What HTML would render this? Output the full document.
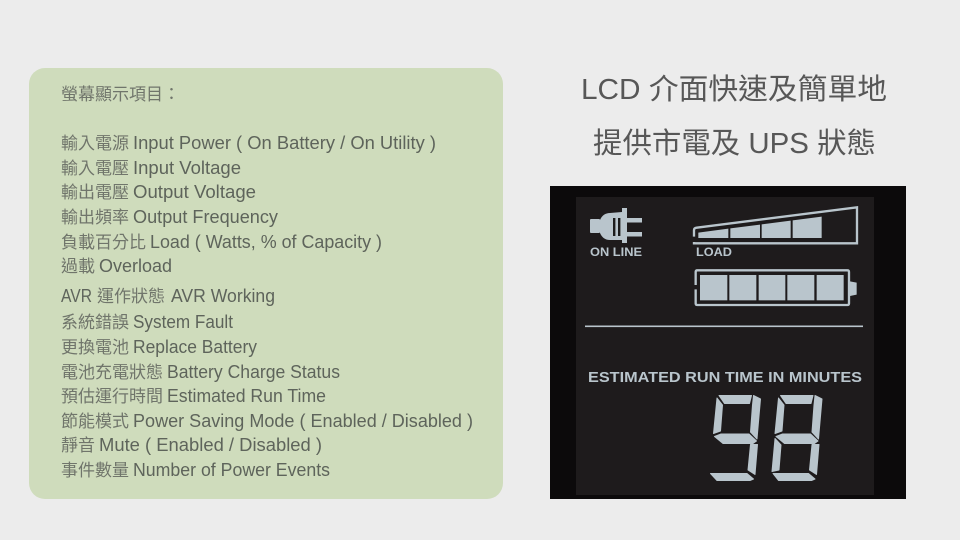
<!DOCTYPE html>
<html lang="zh-Hant">
<head>
<meta charset="utf-8">
<title>LCD 介面</title>
<style>
html,body{margin:0;padding:0;width:960px;height:540px;overflow:hidden;background:#ececec}
svg{display:block}
.c{font-family:"Liberation Sans","Noto Sans CJK TC",sans-serif;font-size:17px;fill:#70756b}
.l{font-family:"Liberation Sans",sans-serif;font-size:18px;fill:#5e645b}
.t{font-family:"Liberation Sans","Noto Sans CJK TC",sans-serif;font-size:29px;fill:#575757}
.s{fill:#b9c5cc}
.o{fill:none;stroke:#b9c5cc}
.d{fill:#b9c5cc;stroke:#b9c5cc;stroke-width:1;stroke-linejoin:round}
.lbl{font-family:"Liberation Sans",sans-serif;font-weight:bold;fill:#b9c5cc}
</style>
</head>
<body>
<svg width="960" height="540" viewBox="0 0 960 540" xmlns="http://www.w3.org/2000/svg">
<defs><filter id="b" x="-2%" y="-2%" width="104%" height="104%"><feGaussianBlur stdDeviation="0.35"/></filter></defs>
<rect width="960" height="540" fill="#ececec"/>
<rect x="29" y="68" width="474" height="431" rx="16" fill="#cfdcbc"/>

<text class="c" x="61" y="100">螢幕顯示項目：</text>

<text class="c" x="61" y="149">輸入電源</text><text class="l" x="133" y="149" textLength="303" lengthAdjust="spacingAndGlyphs">Input Power ( On Battery / On Utility )</text>
<text class="c" x="61" y="174">輸入電壓</text><text class="l" x="133" y="174" textLength="108" lengthAdjust="spacingAndGlyphs">Input Voltage</text>
<text class="c" x="61" y="198">輸出電壓</text><text class="l" x="133" y="198" textLength="123" lengthAdjust="spacingAndGlyphs">Output Voltage</text>
<text class="c" x="61" y="223">輸出頻率</text><text class="l" x="133" y="223" textLength="145" lengthAdjust="spacingAndGlyphs">Output Frequency</text>
<text class="c" x="61" y="248">負載百分比</text><text class="l" x="150" y="248" textLength="232" lengthAdjust="spacingAndGlyphs">Load ( Watts, % of Capacity )</text>
<text class="c" x="61" y="272">過載</text><text class="l" x="99" y="272" textLength="73" lengthAdjust="spacingAndGlyphs">Overload</text>
<text class="l" x="61" y="302" textLength="31" lengthAdjust="spacingAndGlyphs">AVR</text><text class="c" x="97" y="302">運作狀態</text><text class="l" x="171" y="302" textLength="104" lengthAdjust="spacingAndGlyphs">AVR Working</text>
<text class="c" x="61" y="328">系統錯誤</text><text class="l" x="133" y="328" textLength="100" lengthAdjust="spacingAndGlyphs">System Fault</text>
<text class="c" x="61" y="353">更換電池</text><text class="l" x="133" y="353" textLength="124" lengthAdjust="spacingAndGlyphs">Replace Battery</text>
<text class="c" x="61" y="378">電池充電狀態</text><text class="l" x="167" y="378" textLength="173" lengthAdjust="spacingAndGlyphs">Battery Charge Status</text>
<text class="c" x="61" y="402">預估運行時間</text><text class="l" x="167" y="402" textLength="159" lengthAdjust="spacingAndGlyphs">Estimated Run Time</text>
<text class="c" x="61" y="427">節能模式</text><text class="l" x="133" y="427" textLength="340" lengthAdjust="spacingAndGlyphs">Power Saving Mode ( Enabled / Disabled )</text>
<text class="c" x="61" y="451">靜音</text><text class="l" x="99" y="451" textLength="223" lengthAdjust="spacingAndGlyphs">Mute ( Enabled / Disabled )</text>
<text class="c" x="61" y="476">事件數量</text><text class="l" x="133" y="476" textLength="197" lengthAdjust="spacingAndGlyphs">Number of Power Events</text>

<text class="t" x="581" y="99" textLength="306" lengthAdjust="spacingAndGlyphs">LCD 介面快速及簡單地</text>
<text class="t" x="593" y="153" textLength="283" lengthAdjust="spacingAndGlyphs">提供市電及 UPS 狀態</text>

<!-- LCD -->
<rect x="550" y="186" width="356" height="313" fill="#0c0a0b"/>
<rect x="576" y="197" width="298" height="298" fill="#1e1b1c"/>

<g filter="url(#b)">
<!-- plug -->
<rect class="s" x="590" y="219" width="10" height="14" rx="1"/>
<path class="s" d="M600 220 Q603 213 610 213 L622 212 L622 208 L627 208 L627 218 L642 218 L642 222.5 L627 222.5 L627 232 L642 232 L642 236.5 L627 236.5 L627 243 L622 243 L622 240 L610 240 Q603 240 600 233 Z"/>
<rect x="613" y="218" width="2.4" height="18" fill="#1e1b1c"/>
<rect x="618" y="218" width="2.4" height="18" fill="#1e1b1c"/>

<g transform="translate(550,180) scale(.33333)">
  <!-- load wedge -->
  <path class="o" stroke-width="7" d="M432 170 L432 150 Q432 144 440 143 L921 82 L921 190 L432 190 L432 186"/>
  <polygon class="s" points="445,158 535,146 535,174 445,174"/>
  <polygon class="s" points="541,145 630,134 630,174 541,174"/>
  <polygon class="s" points="635,133 722,122 722,174 635,174"/>
  <polygon class="s" points="728,121 815,110 815,174 728,174"/>

  <!-- battery -->
  <path class="o" stroke-width="7" d="M437 315 L437 276 Q437 271 442 271 L892 271 Q897 271 897 276 L897 370 Q897 375 892 375 L442 375 Q437 375 437 370 L437 328"/>
  <rect class="s" x="450" y="285" width="82" height="76"/>
  <rect class="s" x="538" y="285" width="81" height="76"/>
  <rect class="s" x="626" y="285" width="80" height="76"/>
  <rect class="s" x="712" y="285" width="81" height="76"/>
  <rect class="s" x="800" y="285" width="81" height="76"/>
  <polygon class="s" points="900,304 920,308 920,344 900,348"/>
</g>

<text class="lbl" x="590" y="256" font-size="11.5" textLength="52" lengthAdjust="spacingAndGlyphs">ON LINE</text>
<text class="lbl" x="696" y="256" font-size="11.5" textLength="36" lengthAdjust="spacingAndGlyphs">LOAD</text>
<rect x="585" y="325.5" width="278" height="1.6" fill="#b9c5cc"/>
<text class="lbl" x="588" y="382" font-size="15" textLength="274" lengthAdjust="spacingAndGlyphs">ESTIMATED RUN TIME IN MINUTES</text>

<!-- digits -->
<g class="d">
  <polygon points="719,395.5 751.5,395.5 749.5,403.5 724.5,403.5"/>
  <polygon points="717,398 722.5,405 720.5,431 713.5,433.5"/>
  <polygon points="753.5,395.5 760.5,399 757,439 750.5,432 752.5,405"/>
  <polygon points="714.5,436.5 721,434 749,434 756.5,441 753,443.5 723,443.5"/>
  <polygon points="757.5,444.5 755,474.5 748,470 750.5,444.5"/>
  <polygon points="710.5,473.5 747,473.5 753.5,479 750,480.5 717,480.5"/>
  <g transform="translate(61.5,0)">
    <polygon points="719,395.5 751.5,395.5 749.5,403.5 724.5,403.5"/>
    <polygon points="717,398 722.5,405 720.5,431 713.5,433.5"/>
    <polygon points="753.5,395.5 760.5,399 757,439 750.5,432 752.5,405"/>
    <polygon points="714.5,436.5 721,434 749,434 756.5,441 753,443.5 723,443.5"/>
    <polygon points="757.5,444.5 755,474.5 748,470 750.5,444.5"/>
    <polygon points="711.5,473.5 747,473.5 753.5,479 750,480.5 717,480.5"/>
    <polygon points="713.5,438.5 719.5,445 717.5,470 710.5,471.5"/>
  </g>
</g>
</g>
</svg>
</body>
</html>
